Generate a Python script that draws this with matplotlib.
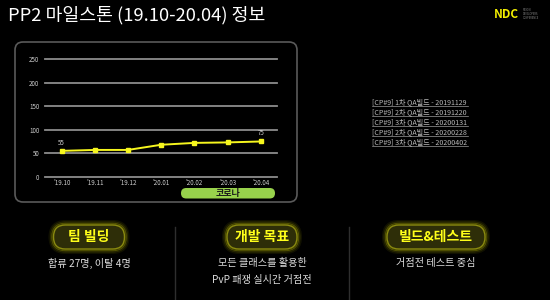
import matplotlib
matplotlib.use("Agg")
import matplotlib.pyplot as plt
from matplotlib.patches import FancyBboxPatch

plt.rcParams['font.family'] = ['Noto Sans CJK KR', 'DejaVu Sans']

# data
months = ["'19.10", "'19.11", "'19.12", "'20.01", "'20.02", "'20.03", "'20.04"]
values = [55, 57, 57, 68, 72, 73, 75]
yticks = [0, 50, 100, 150, 200, 250]
links = ["[CP#9] 1차 QA빌드 - 20191129",
         "[CP#9] 2차 QA빌드 - 20191220",
         "[CP#9] 3차 QA빌드 - 20200131",
         "[CP#9] 2차 QA빌드 - 20200228",
         "[CP#9] 3차 QA빌드 - 20200402"]
pill_titles = ["팀 빌딩", "개발 목표", "빌드&테스트"]
pill_texts = [["합류 27명, 이탈 4명"],
              ["모든 클래스를 활용한", "PvP 패쟁 실시간 거점전"],
              ["거점전 테스트 중심"]]

W, H = 550, 300
fig = plt.figure(figsize=(5.5, 3), dpi=100, facecolor='black')

# background canvas in pixel coords (y down)
bg = fig.add_axes([0, 0, 1, 1])
bg.set_xlim(0, W)
bg.set_ylim(H, 0)
bg.axis('off')
bg.set_facecolor('black')

bg.text(8, 15, "PP2 마일스톤 (19.10-20.04) 정보", color='white', fontsize=13.2,
        fontweight='medium', va='center', ha='left')

# NDC logo
bg.text(494, 14, "NDC", color='#f4f000', fontsize=8.5, fontweight='bold',
        va='center', ha='left')
for i, w in enumerate(["NEXON", "DEVELOPERS", "CONFERENCE"]):
    bg.text(523, 10 + i * 4, w, color='#888888', fontsize=1.8, va='center', ha='left')

# chart frame
frame = FancyBboxPatch((15, 42), 282, 160, boxstyle="round,pad=0,rounding_size=8",
                       fc='black', ec='#5a5a5a', lw=1.2)
bg.add_patch(frame)

# corona pill
corona = FancyBboxPatch((181, 188), 94, 10.5, boxstyle="round,pad=0,rounding_size=5.2",
                        fc='#98d24c', ec='none', zorder=3)
bg.add_patch(corona)
bg.text(228, 193.2, "코로나", color='#1a1a1a', fontsize=6.5, fontweight='bold',
        ha='center', va='center', zorder=4)

# build links
for i, t in enumerate(links):
    y = 102.3 + i * 9.9
    bg.text(372, y, t, color='#b8b8b8', fontsize=5.1, ha='left', va='center')
    bg.plot([372, 468], [y + 3.6, y + 3.6], color='#9a9a9a', lw=0.5)

# separators
for x in [175, 349]:
    bg.plot([x, x], [227, 300], color='#2e2e2e', lw=1)

# bottom pills
centers = [89, 262, 436]
widths = [71, 70, 98]
for cx, w, title, lines in zip(centers, widths, pill_titles, pill_texts):
    y0, h = 225, 24
    for k, a in [(4, 0.07), (2.5, 0.14), (1.2, 0.28)]:
        glow = FancyBboxPatch((cx - w / 2 - k, y0 - k), w + 2 * k, h + 2 * k,
                              boxstyle="round,pad=0,rounding_size=%f" % (h / 2 + k),
                              fc='none', ec='#e8e800', lw=1.5, alpha=a)
        bg.add_patch(glow)
    pill = FancyBboxPatch((cx - w / 2, y0), w, h,
                          boxstyle="round,pad=0,rounding_size=12",
                          fc='#2e2e08', ec='#8a8a10', lw=1)
    bg.add_patch(pill)
    bg.text(cx, y0 + h / 2, title, color='#ffff1a', fontsize=10, fontweight='bold',
            ha='center', va='center')
    for j, ln in enumerate(lines):
        bg.text(cx, 263 + j * 17.5, ln, color='#dddddd', fontsize=7.3,
                ha='center', va='center')

# line chart
ax = fig.add_axes([45 / W, 1 - 176.7 / H, 232.3 / W, 117.4 / H])
ax.set_facecolor('none')
ax.set_xlim(-0.5, 6.5)
ax.set_ylim(0, 250)
for s in ax.spines.values():
    s.set_visible(False)
for yt in yticks:
    ax.axhline(yt, color='#8c8c8c', lw=1.3, clip_on=False, zorder=1)
x = list(range(len(months)))
ax.plot(x, values, color='#f6f61e', lw=1.4, marker='s', ms=2.6, zorder=3, clip_on=False)
ax.annotate(str(values[0]), (x[0], values[0]), xytext=(0, 6), textcoords='offset points',
            color='#cccccc', fontsize=4.5, ha='center', va='center')
ax.annotate(str(values[-1]), (x[-1], values[-1]), xytext=(0, 6), textcoords='offset points',
            color='#cccccc', fontsize=4.5, ha='center', va='center')
ax.set_yticks(yticks)
ax.set_xticks(x)
ax.set_xticklabels(months)
ax.tick_params(axis='both', length=0, colors='#cccccc', labelsize=4.5)
ax.tick_params(axis='y', pad=4)
ax.tick_params(axis='x', pad=1.8)

fig.savefig('out.png', dpi=100, facecolor='black')
